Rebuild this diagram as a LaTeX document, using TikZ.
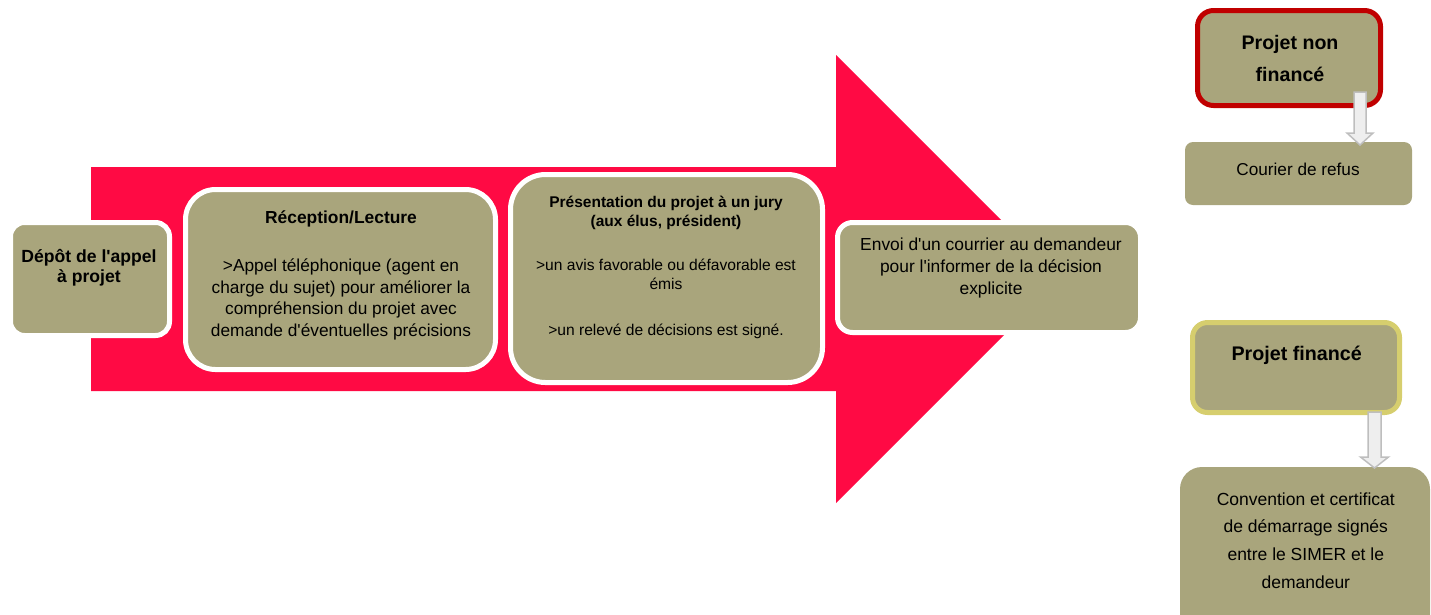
\documentclass[tikz,border=0pt]{standalone}
\usepackage{fontspec}
\setmainfont{Liberation Sans}[Ligatures=TeXOff]
\usetikzlibrary{calc}
\definecolor{boxfill}{RGB}{169,165,124}
\definecolor{arrowred}{RGB}{255,10,68}
\definecolor{nfred}{RGB}{192,0,0}
\definecolor{pfyellow}{RGB}{214,206,110}
\definecolor{blockfill}{RGB}{238,238,238}
\definecolor{blockline}{RGB}{190,190,190}
\begin{document}
\begin{tikzpicture}[x=1pt,y=-1pt,
  mainbox/.style={rectangle, fill=boxfill, draw=white, line width=5pt, inner sep=0pt},
  sidebox/.style={rectangle, fill=boxfill, inner sep=0pt},
  txt/.style={anchor=north, inner sep=0pt, align=center, text=black},
  blockarrow/.style={fill=blockfill, draw=blockline, line width=1.5pt, line join=miter}]
\useasboundingbox (0,0) rectangle (1431,614);
\clip (0,0) rectangle (1431,614);
% big red arrow
\fill[arrowred] (91,167) -- (836,167) -- (836,55) -- (1060,279) -- (836,503) -- (836,391) -- (91,391) -- cycle;
% main boxes
\node[mainbox, minimum width=159pt, minimum height=113pt, rounded corners=14pt] (depot) at (90,279) {};
\node[mainbox, minimum width=310pt, minimum height=180pt, rounded corners=30pt] (recep) at (340.5,279.5) {};
\node[mainbox, minimum width=312pt, minimum height=208pt, rounded corners=35pt] (pres) at (666.5,278.5) {};
\node[mainbox, minimum width=303pt, minimum height=110pt, rounded corners=15pt] (envoi) at (989,277.5) {};
% texts of main boxes
\node[txt, font=\fontsize{17.6}{20}\selectfont\bfseries] (depotT) at (89,249) {Dépôt de l'appel\\à projet};
\node[txt, font=\fontsize{17.4}{21}\selectfont\bfseries] (recepT) at (341,210.3) {Réception/Lecture};
\node[txt, font=\fontsize{17.3}{21.5}\selectfont] (recepB) at (341,259) {>Appel téléphonique (agent en\\charge du sujet) pour améliorer la\\compréhension du projet avec\\demande d'éventuelles précisions};
\node[txt, font=\fontsize{15.5}{19}\selectfont\bfseries] (presT) at (666,195.7) {Présentation du projet à un jury\\(aux élus, président)};
\node[txt, font=\fontsize{15.6}{18.3}\selectfont] (presB1) at (666,259.3) {>un avis favorable ou défavorable est\\émis};
\node[txt, font=\fontsize{15.6}{18.3}\selectfont] (presB2) at (666,324.3) {>un relevé de décisions est signé.};
\node[txt, font=\fontsize{17.4}{21.7}\selectfont] (envoiT) at (991,238) {Envoi d'un courrier au demandeur\\pour l'informer de la décision\\explicite};
% right side boxes
\node[sidebox, draw=nfred, line width=5pt, minimum width=183pt, minimum height=95pt, rounded corners=16pt] (nf) at (1289,58) {};
\node[sidebox, minimum width=227pt, minimum height=63pt, rounded corners=8pt] (refus) at (1298.5,173.5) {};
\node[sidebox, draw=pfyellow, line width=5pt, minimum width=207pt, minimum height=90pt, rounded corners=15pt] (pf) at (1296,367.5) {};
\node[sidebox, minimum width=250pt, minimum height=173pt, rounded corners=22pt] (conv) at (1305,553.5) {};
% right side texts
\node[txt, font=\fontsize{19.6}{32}\selectfont\bfseries] (nfT) at (1290,34.7) {Projet non\\financé};
\node[txt, font=\fontsize{17.2}{21}\selectfont] (refusT) at (1298,162.4) {Courier de refus};
\node[txt, font=\fontsize{19.7}{24}\selectfont\bfseries] (pfT) at (1296.7,345.6) {Projet financé};
\node[txt, font=\fontsize{17.5}{27.8}\selectfont] (convT) at (1305.8,492.2) {Convention et certificat\\de démarrage signés\\entre le SIMER et le\\demandeur};
% block arrows
\coordinate (a1s) at (1360,92);
\coordinate (a1e) at (1360,145);
\draw[blockarrow] ($(a1s)+(-6,0)$) -- ($(a1s)+(6,0)$) -- ($(a1e)+(6,-12)$) -- ($(a1e)+(13,-12)$) -- (a1e) -- ($(a1e)+(-13,-12)$) -- ($(a1e)+(-6,-12)$) -- cycle;
\coordinate (a2s) at (1374.5,412);
\coordinate (a2e) at (1374.5,468);
\draw[blockarrow] ($(a2s)+(-6.5,0)$) -- ($(a2s)+(6.5,0)$) -- ($(a2e)+(6.5,-11)$) -- ($(a2e)+(14,-11)$) -- (a2e) -- ($(a2e)+(-14,-11)$) -- ($(a2e)+(-6.5,-11)$) -- cycle;
\end{tikzpicture}
\end{document}
